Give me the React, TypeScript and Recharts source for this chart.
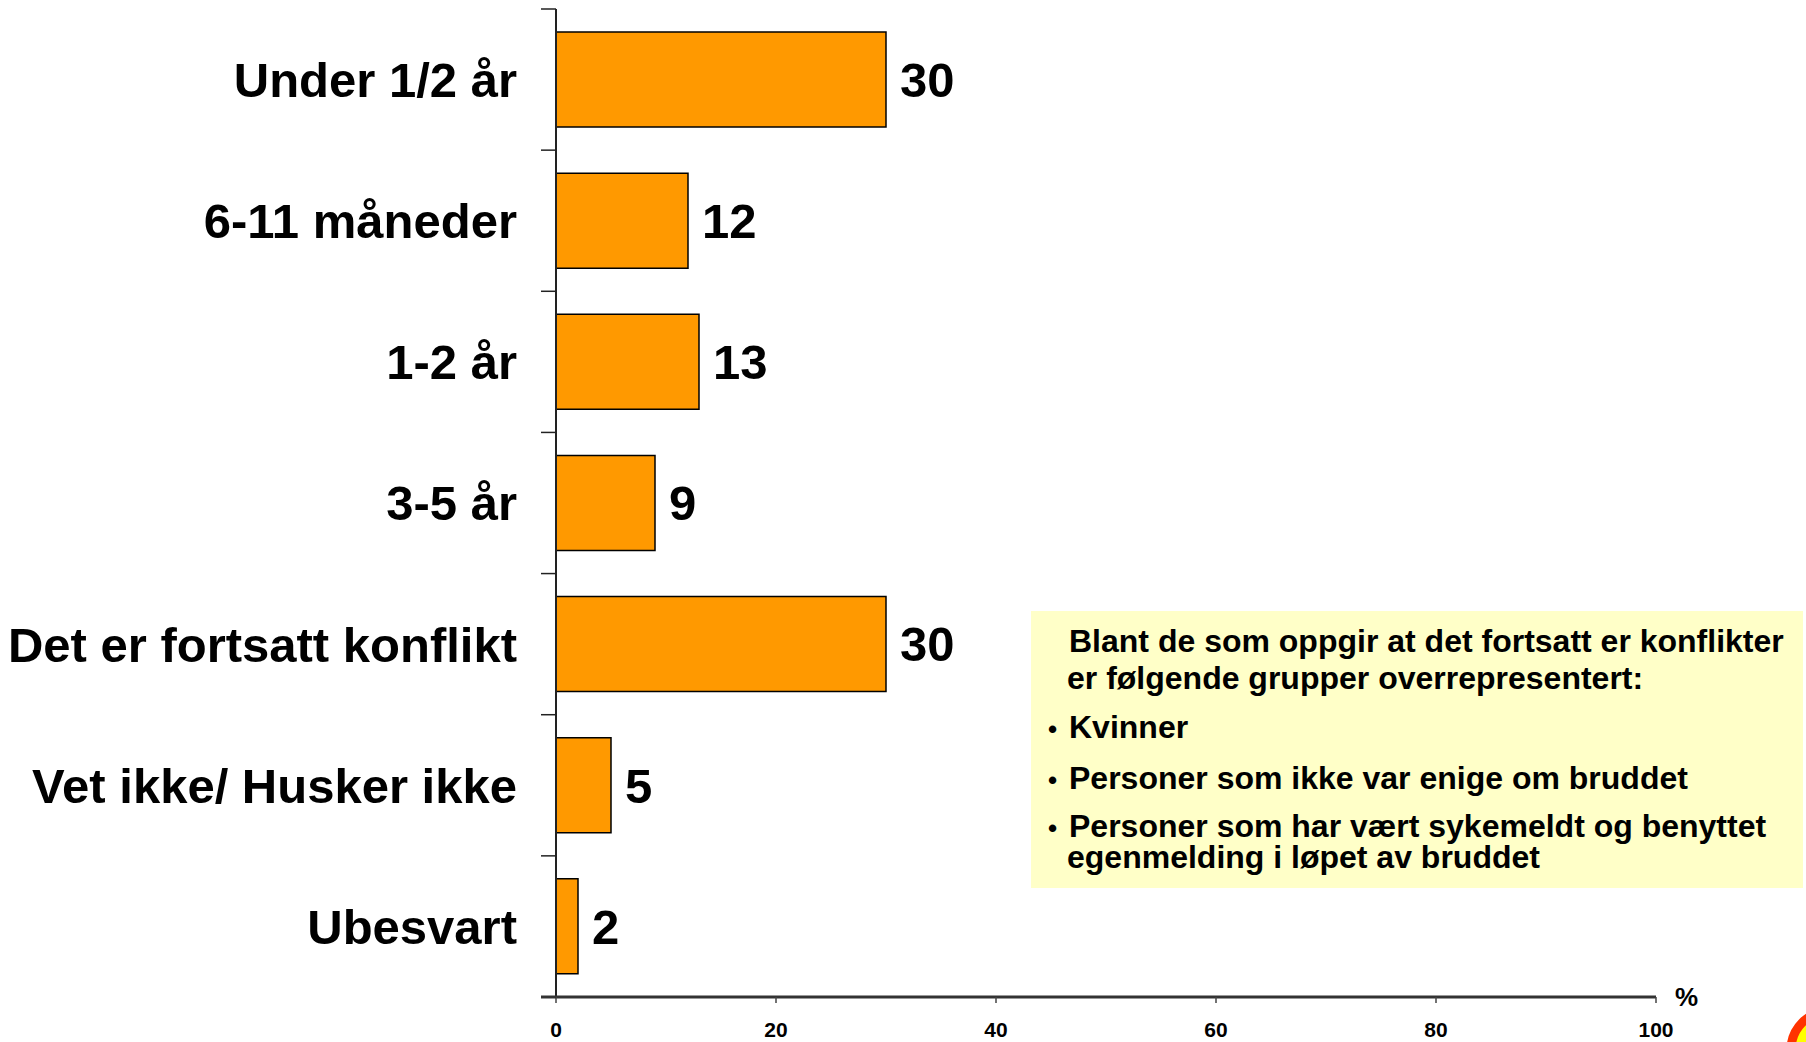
import React from 'react';
import { BarChart, Bar, XAxis, YAxis, LabelList } from 'recharts';

const categories = ['Under 1/2 år', '6-11 måneder', '1-2 år', '3-5 år', 'Det er fortsatt konflikt', 'Vet ikke/ Husker ikke', 'Ubesvart'];
const values = [30, 12, 13, 9, 30, 5, 2];
const xTicks = [0, 20, 40, 60, 80, 100];
const noteLines = [
  { lines: ['Blant de som oppgir at det fortsatt er konflikter'], bullet: false },
  { lines: ['er følgende grupper overrepresentert:'], bullet: false },
  { lines: ['Kvinner'], bullet: true },
  { lines: ['Personer som ikke var enige om bruddet'], bullet: true },
  { lines: ['Personer som har vært sykemeldt og benyttet', 'egenmelding i løpet av bruddet'], bullet: true },
];

const data = categories.map((name, i) => ({ name, value: values[i] }));
const FONT = '"Liberation Sans", Arial, Helvetica, sans-serif';
const TICK_MARGIN = 39;
const TICK_LEN = 15;

const CategoryTick = (props: any) => {
  const { x, y, payload, index, visibleTicksCount } = props;
  const half = payload && typeof payload.offset === 'number' ? payload.offset : 0;
  const axisX = x + TICK_MARGIN;
  const isLast = index === (visibleTicksCount ?? categories.length) - 1;
  return (
    <g>
      {half > 0 && (
        <line x1={axisX - TICK_LEN} x2={axisX} y1={y - half} y2={y - half} stroke="#222" strokeWidth={1.5} />
      )}
      {half > 0 && isLast && (
        <line x1={axisX - TICK_LEN} x2={axisX} y1={y + half} y2={y + half} stroke="#333" strokeWidth={3} />
      )}
      <text
        x={x}
        y={y}
        dy="0.355em"
        textAnchor="end"
        fontSize={49}
        fontWeight="bold"
        fill="#000"
        fontFamily={FONT}
      >
        {payload.value}
      </text>
    </g>
  );
};

export default function App() {
  const noteX = [1069, 1067, 1069, 1069, 1069];
  const noteY = [652, 689, 738, 789, 837];
  return (
    <div style={{ position: 'absolute', left: 0, top: 0, width: 1806, height: 1042, background: '#fff', overflow: 'hidden', fontFamily: FONT }}>
      <BarChart
        width={1806}
        height={1042}
        data={data}
        layout="vertical"
        margin={{ top: 9, right: 150, bottom: 0, left: 0 }}
      >
        <YAxis
          type="category"
          dataKey="name"
          width={556}
          axisLine={{ stroke: '#222', strokeWidth: 2 }}
          tickLine={false}
          tickSize={0}
          tickMargin={TICK_MARGIN}
          interval={0}
          tick={CategoryTick}
        />
        <XAxis
          type="number"
          domain={[0, 100]}
          ticks={xTicks}
          height={45}
          axisLine={{ stroke: '#333', strokeWidth: 3 }}
          tickLine={{ stroke: '#444', strokeWidth: 1.5 }}
          tickSize={6}
          tickMargin={19}
          tick={{ fontSize: 21, fontWeight: 'bold', fill: '#000', fontFamily: FONT }}
          interval={0}
        />
        <Bar
          dataKey="value"
          fill="#FF9900"
          stroke="#000"
          strokeWidth={1.5}
          barSize={95}
          isAnimationActive={false}
        >
          <LabelList
            dataKey="value"
            position="right"
            offset={14}
            style={{ fontSize: 49, fontWeight: 'bold', fill: '#000', fontFamily: FONT }}
          />
        </Bar>
      </BarChart>
      <svg width={1806} height={1042} style={{ position: 'absolute', left: 0, top: 0, pointerEvents: 'none' }}>
        <text x={1675} y={1006} fontSize={26} fontWeight="bold" fontFamily={FONT} fill="#000">%</text>
        <rect x={1031} y={611} width={772} height={277} fill="#FFFFC8" />
        {noteLines.map((l, i) => (
          <g key={i}>
            {l.bullet && (
              <text x={1048} y={noteY[i]} fontSize={26} fontWeight="bold" fontFamily={FONT} fill="#000">•</text>
            )}
            <text x={noteX[i]} y={noteY[i]} fontSize={32} fontWeight="bold" fontFamily={FONT} fill="#000">
              {l.lines.map((t, j) => (
                <tspan key={j} x={j === 0 ? noteX[i] : noteX[i] - 2} dy={j === 0 ? 0 : 31}>{t}</tspan>
              ))}
            </text>
          </g>
        ))}
        <circle cx={1830} cy={1050} r={39} fill="#FFFF00" stroke="#FF3300" strokeWidth={9} />
      </svg>
    </div>
  );
}
